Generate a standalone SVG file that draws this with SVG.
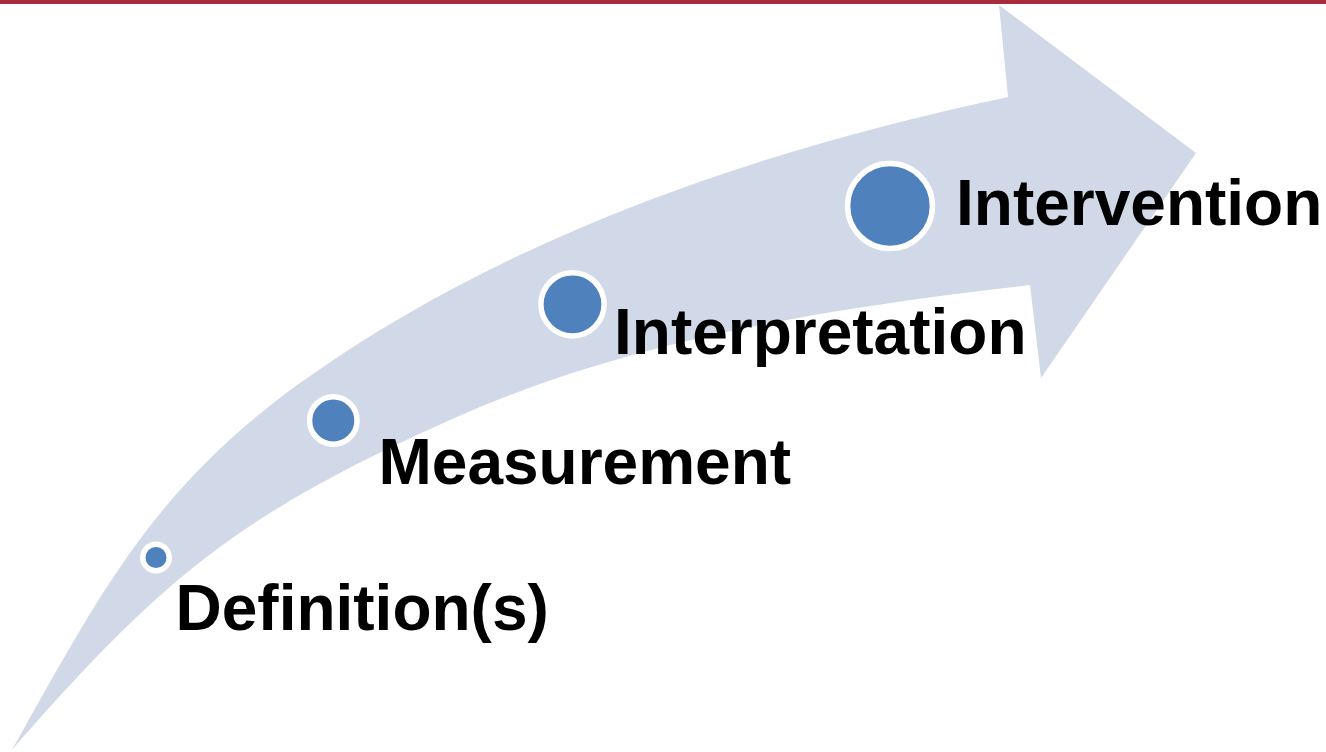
<svg xmlns="http://www.w3.org/2000/svg" width="1326" height="752" viewBox="0 0 1326 752">
  <style>
    .band { fill: #D1D9E8; }
    .dot { fill: #4F81BD; stroke: #FFFFFF; stroke-width: 5.5; }
    .label { font-family: "Liberation Sans", Arial, sans-serif; font-weight: bold; font-size: 64px; fill: #000000; }
  </style>
  <rect x="0" y="0" width="1326" height="4" fill="#A62B3B"/>

  <!-- curved up-right arrow in the background -->
  <g id="arrow">
    <path class="band" d="M 12,750 C 100,593 154,488 300,383 C 507,235 759,150 1008,97 L 999,5 L 1196,153 L 1041,378 L 1030,285 C 831,308 632,338 450,420 C 240,514 163,577 12,750 Z"/>
  </g>

  <g id="definition">
    <circle class="dot" cx="156" cy="557.5" r="13.25"/>
    <text class="label" x="175.5" y="630">Definition(s)</text>
  </g>

  <g id="measurement">
    <circle class="dot" cx="333.3" cy="420.5" r="23.75"/>
    <text class="label" x="378.5" y="484">Measurement</text>
  </g>

  <g id="interpretation">
    <circle class="dot" cx="572.5" cy="304.3" r="31.6"/>
    <text class="label" x="614" y="354">Interpretation</text>
  </g>

  <g id="intervention">
    <circle class="dot" cx="890" cy="206" r="42.4"/>
    <text class="label" x="956" y="225">Intervention</text>
  </g>

  <g id="connectors"/>
</svg>
